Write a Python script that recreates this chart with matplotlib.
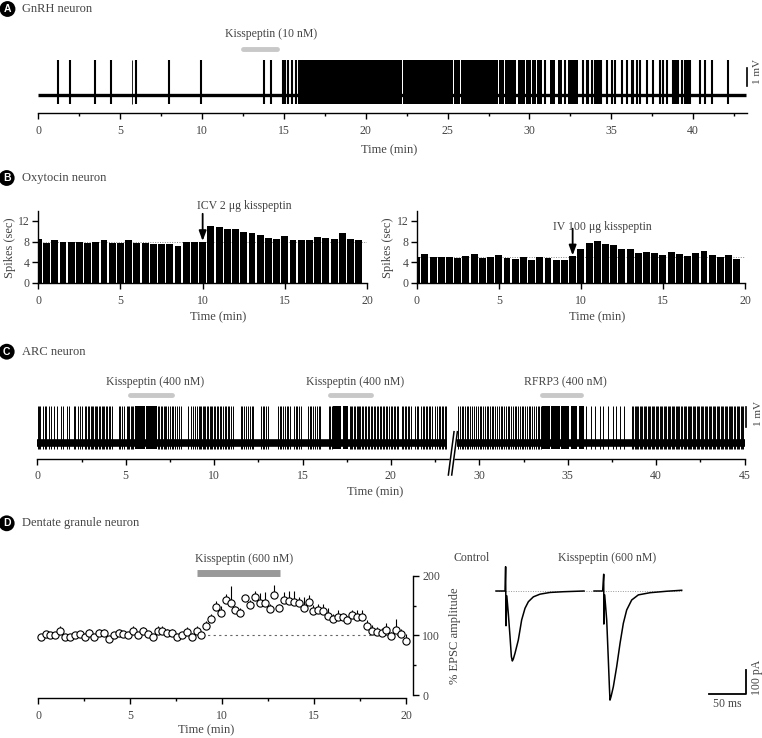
import numpy as np
import matplotlib
matplotlib.use('Agg')
import matplotlib.pyplot as plt

plt.rcParams['font.family'] = ['Liberation Serif', 'DejaVu Serif']
plt.rcParams['axes.linewidth'] = 1.0

W, H = 762, 738
fig = plt.figure(figsize=(W / 100, H / 100), dpi=100)
TXT = '#444444'

# ---------------- data ----------------
# A: GnRH neuron spike times (min) and dense firing blocks (start, end)
gnrh_spikes = [1.22, 1.96, 3.48, 4.44, 5.97, 7.97, 9.96, 13.79, 14.20, 14.93, 15.07,
               15.27, 15.48, 15.74, 30.95, 32.17, 33.29, 33.50, 33.60, 33.80, 34.00,
               34.10, 34.27, 34.40, 34.72, 35.03, 35.23, 35.64, 35.94, 36.25, 36.35,
               36.55, 36.76, 37.16, 37.57, 37.98, 38.18, 38.39, 38.79, 38.90, 39.00,
               39.10, 39.30, 39.50, 39.60, 39.70, 39.80, 40.42, 40.73, 41.13, 42.15]
gnrh_thin = [5.70]
gnrh_bursts = [(15.85, 20.97), (21.01, 21.47), (21.51, 22.23), (22.27, 23.42),
               (23.46, 24.94), (24.98, 25.33), (25.37, 25.76), (25.80, 26.16),
               (26.20, 26.97), (27.01, 28.07), (28.11, 28.44), (28.48, 28.79),
               (28.83, 29.20), (29.28, 29.70), (29.78, 30.10), (30.18, 30.40),
               (30.48, 30.75), (31.26, 31.56), (31.77, 31.97), (32.38, 32.99)]
gnrh_drug = (12.5, 14.56)

# B: oxytocin neuron, spikes per 30-s bin
oxt_time = np.arange(40) * 0.5
oxt_icv = [8.4, 7.8, 8.3, 8.0, 8.0, 8.0, 7.7, 8.0, 8.3, 7.8, 7.65, 8.3, 7.7, 7.8, 7.45,
           7.45, 7.45, 7.1, 7.9, 7.9, 7.85, 10.95, 10.75, 10.45, 10.45, 9.85, 9.7, 9.3,
           8.75, 8.5, 9.1, 8.35, 8.35, 8.25, 8.9, 8.6, 8.5, 9.65, 8.5, 8.3]
oxt_iv = [4.95, 5.5, 5.0, 5.05, 4.95, 4.8, 5.2, 5.65, 4.8, 4.95, 5.3, 4.75, 4.55, 4.95,
          4.5, 4.95, 4.85, 4.35, 4.35, 5.1, 6.6, 7.65, 8.1, 7.5, 7.35, 6.55, 6.55, 5.75,
          5.9, 5.75, 5.4, 5.9, 5.5, 5.2, 5.75, 6.1, 5.4, 4.95, 5.3, 4.6]

# C: ARC neuron spike times (min), before and after the gap in the recording
arc_early = [0.04, 0.10, 0.18, 0.30, 0.42, 0.50, 0.68, 0.80, 0.97, 1.12, 1.35, 1.48, 1.66,
             1.80, 2.05, 2.13, 2.30, 2.42, 2.55, 2.68, 2.75, 2.86, 2.93, 3.02, 3.10, 3.17,
             3.26, 3.33, 3.40, 3.48, 3.55, 3.64, 3.70, 3.80, 3.87, 3.95, 4.03, 4.11, 4.20,
             4.62, 4.70, 4.80, 4.90, 5.05, 5.12, 5.20, 5.30, 5.36, 5.44, 6.82, 6.90, 6.98,
             7.05, 7.14, 7.22, 7.30, 7.40, 7.48, 7.60, 7.70, 7.78, 7.90, 8.02, 8.12, 8.55,
             8.70, 8.80, 8.92, 9.05, 9.12, 9.20, 9.28, 9.36, 9.45, 9.50, 9.58, 9.66, 9.75,
             9.82, 9.90, 9.98, 10.06, 10.15, 10.22, 10.32, 10.40, 10.50, 10.60, 10.68,
             10.78, 10.86, 10.95, 11.05, 11.50, 11.60, 11.70, 11.80, 11.92, 12.02, 12.12,
             12.20, 12.65, 12.75, 12.85, 12.95, 13.05, 13.60, 13.70, 13.80, 13.90, 14.00,
             14.10, 14.20, 14.30, 14.50, 14.62, 14.70, 14.80, 14.90, 15.30, 15.40, 15.50,
             15.60, 15.70, 15.82, 15.92, 16.00, 16.50, 16.58, 16.66, 17.66, 17.74, 17.82,
             17.90, 17.98, 18.06, 18.12, 18.20, 18.28, 18.36, 18.45, 18.52, 18.60, 18.70,
             18.78, 18.86, 18.94, 19.02, 19.10, 19.20, 19.28, 19.36, 19.45, 19.55, 19.62,
             19.70, 19.80, 19.90, 19.98, 20.06, 20.15, 20.25, 20.33, 20.42, 20.60, 20.70,
             20.78, 20.88, 20.98, 21.05, 21.15, 21.35, 21.45, 21.52, 21.70, 21.80, 21.88,
             21.96, 22.05, 22.15, 22.22, 22.30, 22.52, 22.60, 22.70, 22.80, 22.88, 22.96,
             23.05, 23.12]
arc_late = [28.82, 28.90, 29.00, 29.08, 29.20, 29.30, 29.38, 29.50, 29.58, 29.68, 29.80,
            29.92, 30.02, 30.12, 30.20, 30.30, 30.42, 30.50, 30.60, 30.70, 30.80, 30.88,
            30.98, 31.10, 31.20, 31.30, 31.38, 31.50, 31.60, 31.68, 31.80, 31.90, 32.00,
            32.10, 32.18, 32.30, 32.40, 32.48, 32.58, 32.70, 32.80, 32.88, 32.98, 33.08,
            33.20, 33.30, 33.40, 33.48, 36.02, 36.30, 36.55, 36.82, 37.02, 37.28, 37.55,
            37.72, 37.95, 38.20, 38.66, 38.72, 38.80, 38.86, 38.94, 39.00, 39.08, 39.15,
            39.22, 39.30, 39.38, 39.45, 39.52, 39.60, 39.68, 39.75, 39.82, 39.90, 39.98,
            40.05, 40.12, 40.20, 40.28, 40.35, 40.42, 40.50, 40.58, 40.65, 40.72, 40.80,
            40.88, 40.95, 41.02, 41.10, 41.18, 41.25, 41.32, 41.40, 41.48, 41.55, 41.62,
            41.70, 41.78, 41.85, 41.92, 42.00, 42.08, 42.15, 42.22, 42.30, 42.38, 42.45,
            42.52, 42.60, 42.68, 42.75, 42.82, 42.90, 42.98, 43.05, 43.12, 43.20, 43.28,
            43.35, 43.42, 43.50, 43.58, 43.65, 43.72, 43.80, 43.88, 43.95, 44.02, 44.10,
            44.18, 44.25, 44.32, 44.40, 44.48, 44.55, 44.62, 44.70, 44.78, 44.85, 44.92]
arc_bursts = [(5.55, 6.10), (6.16, 6.75), (16.75, 17.20), (17.27, 17.60),
              (33.55, 34.00), (34.08, 34.55), (34.62, 35.10), (35.20, 35.55), (35.62, 35.95)]
arc_drugs = [('Kisspeptin (400 nM)', 5.24, 7.60), ('Kisspeptin (400 nM)', 16.56, 18.90),
             ('RFRP3 (400 nM)', 33.53, 35.75)]
arc_break = (23.2, 28.76)   # recording gap
arc_shift = 5.0             # minutes cut from the axis after the gap
arc_ticks = [0, 5, 10, 15, 20, 30, 35, 40, 45]

# D: dentate granule neuron, % EPSC amplitude (mean, +SEM)
epsc_t = 0.13 + np.arange(76) * 0.2649
epsc_mean = [98, 102, 100, 100, 108, 98, 98, 100, 102, 98, 104, 98, 104, 104, 94, 100,
             104, 102, 100, 107, 100, 108, 102, 97, 108, 108, 104, 104, 97, 100, 106, 98,
             108, 100, 116, 127, 148, 137, 160, 155, 142, 137, 162, 151, 164, 154, 154,
             144, 168, 145, 160, 158, 156, 155, 145, 156, 141, 142, 141, 132, 127, 130,
             130, 125, 134, 130, 130, 116, 108, 106, 104, 109, 99, 109, 102, 91]
epsc_sem = [5, 5, 5, 5, 8, 5, 5, 5, 5, 5, 6, 5, 7, 7, 5, 5, 6, 5, 5, 8, 5, 6, 5, 5, 7, 8,
            6, 6, 5, 5, 8, 6, 8, 6, 8, 8, 10, 12, 10, 27, 8, 8, 6, 8, 10, 17, 19, 8, 16, 8,
            12, 16, 18, 10, 20, 11, 10, 10, 12, 14, 8, 12, 8, 8, 9, 12, 12, 10, 10, 8, 8,
            12, 6, 19, 8, 12]
epsc_drug = (8.62, 13.14)

# D: example EPSC traces (ms, pA)
ctrl_t = [0, 12.1, 12.9, 13.4, 14.5, 16.5, 18.8, 20.6, 21.9, 23.2, 25.5, 29.9, 34.4, 38.9,
          43.4, 50.1, 59.0, 72.4, 90.0, 118.0]
ctrl_i = [0, 0, 100, -143, -20, -92, -188, -270, -288, -280, -256, -202, -119, -71, -44,
          -24, -13, -6, -3, 0]
kiss_t = [0, 11.6, 13.0, 13.2, 14.3, 17.0, 19.2, 20.6, 21.4, 22.8, 25.9, 30.4, 34.9, 39.3,
          43.8, 50.5, 59.4, 75.1, 97.4, 117.5]
kiss_i = [0, 0, 69, -136, -16, -119, -284, -394, -449, -435, -394, -311, -215, -133, -78,
          -37, -16, -7, -1, 3]


def px_axes(l, t, r, b):
    return fig.add_axes([l / W, 1 - b / H, (r - l) / W, (b - t) / H])


def ftext(x, y, s, **kw):
    kw.setdefault('color', TXT)
    kw.setdefault('ha', 'center')
    kw.setdefault('va', 'center')
    kw.setdefault('fontsize', 8.5)
    fig.text(x / W, 1 - y / H, s, **kw)


def panel_label(x, y, letter, title):
    fig.text(x / W, 1 - y / H, letter, color='white', fontsize=7.5, fontweight='bold',
             family='Liberation Sans', ha='center', va='center',
             bbox=dict(boxstyle='circle,pad=0.28', fc='black', ec='none'))
    ftext(21.5, y, title, ha='left', fontsize=9)


def style_x(ax, major, minor=None, labels=None):
    ax.set_xticks(major)
    if labels is not None:
        ax.set_xticklabels(labels)
    if minor is not None:
        ax.set_xticks(minor, minor=True)
    ax.tick_params(axis='x', which='major', length=4.5, width=1, direction='out',
                   pad=4, labelsize=8.5, labelcolor=TXT)
    ax.tick_params(axis='x', which='minor', length=2.5, width=1, direction='out')


# ---------------- A ----------------
panel_label(7.5, 9, 'A', 'GnRH neuron')
axA = px_axes(38.3, 25, 746.7, 113.3)
axA.set_xlim(0, 43.27)
axA.set_ylim(-1.03, 3.95)
axA.plot([0, 43.2], [0, 0], color='k', lw=2.4, solid_capstyle='butt')
axA.vlines(gnrh_spikes, -0.5, 2.0, color='k', lw=1.5)
axA.vlines(gnrh_thin, -0.5, 2.0, color='k', lw=0.6)
for s, e in gnrh_bursts:
    axA.fill_between([s, e], -0.5, 2.0, color='k', lw=0)
axA.plot(gnrh_drug, [2.6, 2.6], color='#c8c8c8', lw=3.5, solid_capstyle='round')
ftext(270.8, 34, 'Kisspeptin (10 nM)')
axA.plot([43.3, 43.3], [0.5, 1.5], color='k', lw=1.2, clip_on=False)
ftext(758, 72, '1 mV', rotation=90, fontsize=8)
for sp in ['top', 'left', 'right']:
    axA.spines[sp].set_visible(False)
axA.set_yticks([])
style_x(axA, np.arange(0, 41, 5), np.arange(2.5, 43, 2.5))
ftext(389, 150, 'Time (min)', fontsize=9)

# ---------------- B ----------------
panel_label(6.7, 178, 'B', 'Oxytocin neuron')


def oxt_panel(l, r, vals, ref, arrow_x, arrow_top, arrow_tip, label, lab_x, lab_y, xl_x, yl_x):
    ax = px_axes(l, 210.7, r, 282.7)
    ax.bar(oxt_time, vals, width=0.42, color='k', zorder=2)
    ax.axhline(ref, color='#888888', ls=(0, (1, 1.5)), lw=0.7, zorder=1)
    ax.set_xlim(0, 20)
    ax.set_ylim(0, 14)
    ax.annotate('', xy=(arrow_x, arrow_tip), xytext=(arrow_x, arrow_top),
                arrowprops=dict(arrowstyle='-|>,head_length=0.6,head_width=0.22',
                                color='k', lw=1.3, shrinkA=0, shrinkB=0),
                annotation_clip=False)
    ax.text(lab_x, lab_y, label, color=TXT, fontsize=8.5, ha='left', va='center',
            clip_on=False)
    for sp in ['top', 'right']:
        ax.spines[sp].set_visible(False)
    ax.set_yticks([0, 4, 8, 12])
    ax.tick_params(axis='y', length=4, width=1, direction='out', pad=2,
                   labelsize=8.5, labelcolor=TXT)
    style_x(ax, [0, 5, 10, 15, 20])
    ftext(xl_x, 317.3, 'Time (min)', fontsize=9)
    ftext(yl_x, 248, 'Spikes (sec)', rotation=90, fontsize=9)
    return ax


oxt_panel(38.3, 367.0, oxt_icv, 8, 10.0, 13.4, 8.1, 'ICV 2 \u03bcg kisspeptin', 9.65, 14.9,
          218, 10)
oxt_panel(416.7, 745.0, oxt_iv, 5, 9.5, 10.5, 5.3, 'IV 100 \u03bcg kisspeptin', 8.33, 10.9,
          597, 388)

# ---------------- C ----------------
panel_label(6.7, 351.7, 'C', 'ARC neuron')
axC = px_axes(37.3, 370, 744.5, 458.5)
axC.set_xlim(0, 40)
axC.set_ylim(-0.775, 3.65)


def arc_x(t):
    t = np.asarray(t, dtype=float)
    return np.where(t > arc_break[0], t - arc_shift, t)


axC.plot([0, arc_break[0]], [0, 0], color='k', lw=5.5, solid_capstyle='butt')
axC.plot([arc_break[1] - arc_shift, 40], [0, 0], color='k', lw=5.5, solid_capstyle='butt')
axC.vlines(arc_x(arc_early), -0.3, 1.85, color='k', lw=0.7)
axC.vlines(arc_x(arc_late), -0.3, 1.85, color='k', lw=0.7)
for s, e in arc_bursts:
    xs = arc_x([s, e])
    axC.fill_between(xs, -0.3, 1.85, color='k', lw=0)
for name, s, e in arc_drugs:
    xs = arc_x([s, e])
    axC.plot(xs, [2.4, 2.4], color='#c8c8c8', lw=3.5, solid_capstyle='round')
    axC.text(xs.mean() + 0.25, 3.05, name, color=TXT, fontsize=8.5, ha='center',
             va='center')
# axis break marks
bx1 = [23.25, 23.57]
bx2 = [23.44, 23.76]
by = [-1.6, 0.565]
axC.fill([bx1[0], bx1[1], bx2[1], bx2[0]], [by[0], by[1], by[1], by[0]], color='white',
         zorder=5, clip_on=False)
axC.plot(bx1, by, color='k', lw=1.1, zorder=6, clip_on=False)
axC.plot(bx2, by, color='k', lw=1.1, zorder=6, clip_on=False)
axC.plot([40.1, 40.1], [0.8, 1.8], color='k', lw=1.2, clip_on=False)
ftext(758.3, 413, '1 mV', rotation=90, fontsize=8)
for sp in ['top', 'left', 'right']:
    axC.spines[sp].set_visible(False)
axC.set_yticks([])
style_x(axC, arc_x(arc_ticks), np.arange(2.5, 40, 5), [str(v) for v in arc_ticks])
ftext(375, 492, 'Time (min)', fontsize=9)

# ---------------- D ----------------
panel_label(6.7, 523.3, 'D', 'Dentate granule neuron')
axD = px_axes(38.3, 551.8, 413.3, 698.3)
axD.set_xlim(0, 20.4)
axD.set_ylim(-5.5, 240)
axD.plot([8.9, 20], [100, 100], color='#666666', ls=(0, (2, 3)), lw=0.8, zorder=1)
axD.vlines(epsc_t, epsc_mean, np.array(epsc_mean) + np.array(epsc_sem), color='k',
           lw=0.8, zorder=2)
axD.plot(epsc_t, epsc_mean, 'o', ms=5.2, mfc='white', mec='k', mew=0.8, zorder=3,
         clip_on=False)
axD.plot(epsc_drug, [205, 205], color='#999999', lw=5, solid_capstyle='butt')
ftext(244, 559, 'Kisspeptin (600 nM)')
for sp in ['top', 'left']:
    axD.spines[sp].set_visible(False)
axD.spines['right'].set_bounds(0, 200)
axD.spines['bottom'].set_bounds(0, 20)
axD.yaxis.tick_right()
axD.set_yticks([0, 100, 200])
axD.set_yticks([50, 150], minor=True)
axD.tick_params(axis='y', which='major', length=4.5, width=1, direction='out', pad=2,
                labelsize=8.5, labelcolor=TXT)
axD.tick_params(axis='y', which='minor', length=2.5, width=1, direction='out')
style_x(axD, [0, 5, 10, 15, 20], np.arange(2.5, 20, 5))
ftext(206, 730, 'Time (min)', fontsize=9)
ftext(455, 636, '% EPSC amplitude', rotation=90, fontsize=9)

# example traces
axE = px_axes(490, 540, 760, 720)
axE.set_xlim(-8.04, 353.9)
axE.set_ylim(-530.9, 209.9)
axE.axis('off')
kiss_offset = 131.4
axE.plot([0, 249], [0, 0], color='#999999', ls=(0, (1, 1.5)), lw=0.7)
axE.plot(ctrl_t, ctrl_i, color='k', lw=1.1)
axE.plot(np.array(kiss_t) + kiss_offset, kiss_i, color='k', lw=1.1)
axE.plot([285.1, 335.1, 335.1], [-425.2, -425.2, -325.2], color='k', lw=1.3)
ftext(471.3, 557.7, 'Control')
ftext(607.5, 558, 'Kisspeptin (600 nM)')
ftext(727.5, 704, '50 ms')
ftext(757, 677, '100 pA', rotation=90)

fig.savefig('out.png', dpi=100)
